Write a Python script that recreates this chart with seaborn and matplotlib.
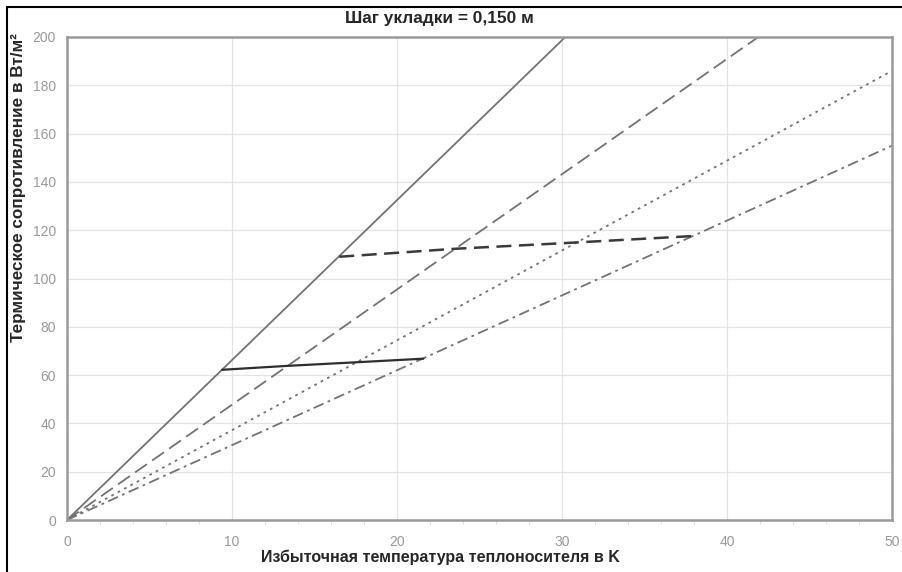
import numpy as np
import pandas as pd
import matplotlib.pyplot as plt
import seaborn as sns
from matplotlib.lines import Line2D

# rays from origin: end points
ray_x_end = [30.2, 41.9, 50.0, 50.0]
ray_y_end = [200.0, 200.0, 186.0, 155.0]
ray_styles = ["-", (0, (8, 3.5)), (0, (1.5, 2.5)), (0, (6, 2.5, 1.5, 2.5))]

# limit curves
limit1_x = [9.4, 13.3, 17.5, 21.6]
limit1_y = [62.2, 63.8, 65.3, 66.8]
limit2_x = [16.5, 23.5, 30.0, 38.0]
limit2_y = [109.0, 112.3, 114.6, 117.6]

x_ticks = [0, 10, 20, 30, 40, 50]
y_ticks = [0, 20, 40, 60, 80, 100, 120, 140, 160, 180, 200]

sns.set_style("white")
plt.rcParams["font.family"] = ["Liberation Sans", "DejaVu Sans"]

fig = plt.figure(figsize=(9.03, 5.72), dpi=100)
ax = fig.add_axes([67 / 903, 1 - 520 / 572, (892 - 67) / 903, (520 - 37) / 572])

for xe, ye, ls in zip(ray_x_end, ray_y_end, ray_styles):
    df = pd.DataFrame({"x": [0.0, xe], "y": [0.0, ye]})
    sns.lineplot(data=df, x="x", y="y", ax=ax, color="#737373",
                 linestyle=ls, linewidth=1.3, sort=False)

sns.lineplot(x=limit1_x, y=limit1_y, ax=ax, color="#2e2e2e", linewidth=1.6)
sns.lineplot(x=limit2_x, y=limit2_y, ax=ax, color="#3a3a3a", linewidth=1.8,
             linestyle=(0, (6, 3)))

ax.set_xlim(0, 50)
ax.set_ylim(0, 200)
ax.set_xticks(x_ticks)
ax.set_yticks(y_ticks)
ax.set_xticks(np.arange(0, 51, 2), minor=True)
ax.grid(True, which="major", color="#e3e3e3", linewidth=0.9)
ax.tick_params(axis="both", which="major", labelsize=10, colors="#999999",
               length=0)
ax.tick_params(axis="y", which="major", pad=8)
ax.tick_params(axis="x", which="major", pad=11)
ax.tick_params(axis="x", which="minor", length=3, color="#d8d8d8",
               direction="out", bottom=True)
for sp in ax.spines.values():
    sp.set_color("#9a9a9a")
    sp.set_linewidth(1.8)

ax.set_xlabel("")
ax.set_ylabel("")
fig.text(0.488, 0.026, "Избыточная температура теплоносителя в K",
         ha="center", va="center", fontsize=11.5, fontweight="bold")
fig.text(0.021, 0.672, "Термическое сопротивление в Вт/м²", rotation=90,
         ha="center", va="center", fontsize=12.3, fontweight="bold")
fig.text(0.487, 0.967, "Шаг укладки = 0,150 м", ha="center", va="center",
         fontsize=12.4, fontweight="bold")

# frame lines of the original picture
fig.add_artist(Line2D([7 / 903, 1.0], [1 - 7 / 572, 1 - 7 / 572],
                      transform=fig.transFigure, color="black", linewidth=1.5))
fig.add_artist(Line2D([7 / 903, 7 / 903], [0.0, 1 - 7 / 572],
                      transform=fig.transFigure, color="black", linewidth=1.5))

fig.savefig("out.png", dpi=100)
plt.close(fig)
